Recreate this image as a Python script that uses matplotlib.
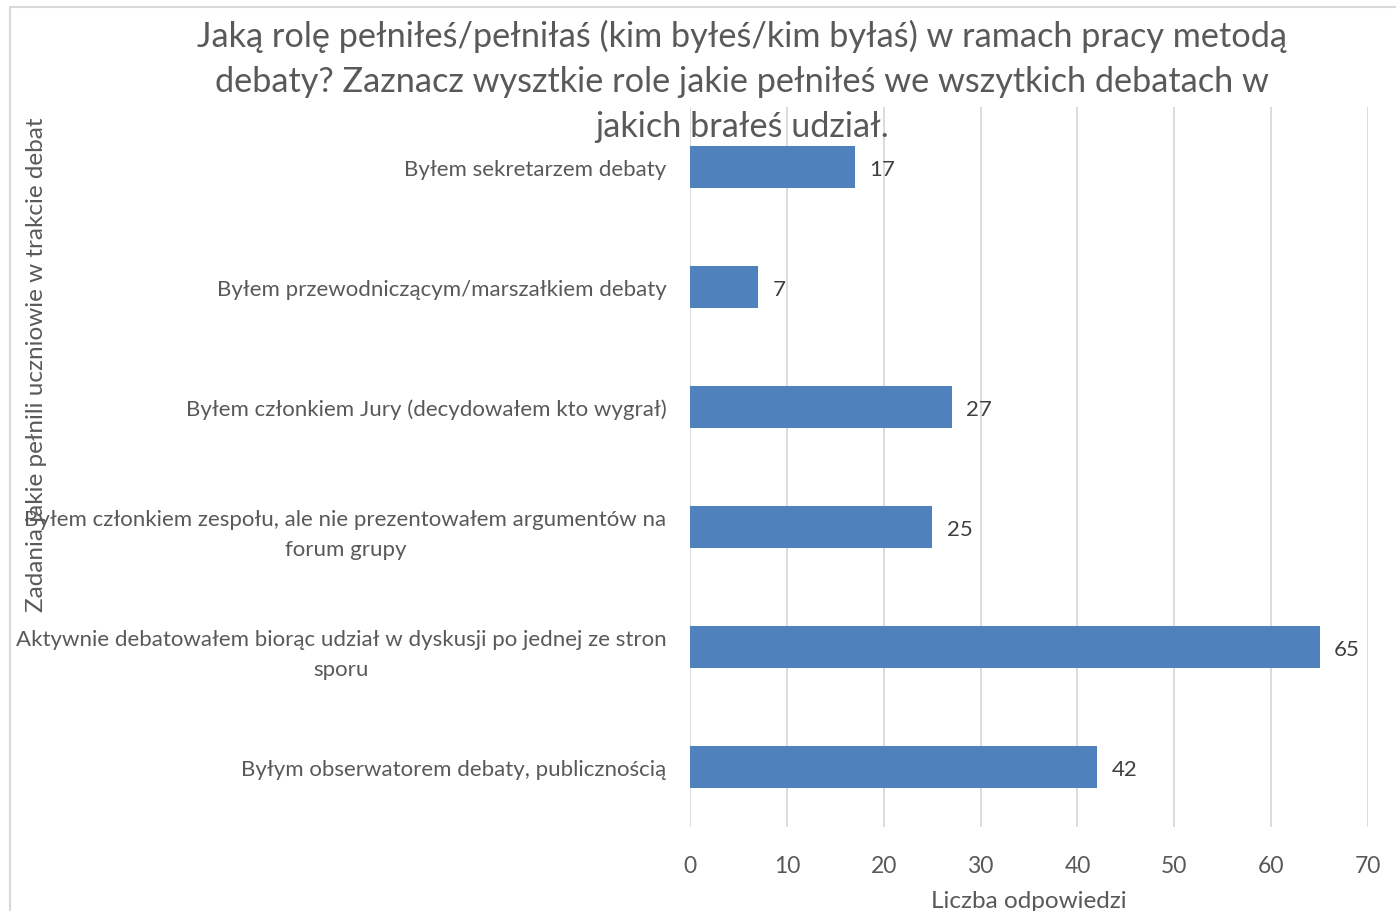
import matplotlib
matplotlib.use("Agg")
import matplotlib.pyplot as plt
from matplotlib.patches import Rectangle

plt.rcParams['font.family'] = ['Lato', 'DejaVu Sans']

roles = [
    "Byłem sekretarzem debaty",
    "Byłem przewodniczącym/marszałkiem debaty",
    "Byłem członkiem Jury (decydowałem kto wygrał)",
    "Byłem członkiem zespołu, ale nie prezentowałem argumentów na\nforum grupy",
    "Aktywnie debatowałem biorąc udział w dyskusji po jednej ze stron\nsporu",
    "Byłym obserwatorem debaty, publicznością",
]
counts = [17, 7, 27, 25, 65, 42]
xticks = [0, 10, 20, 30, 40, 50, 60, 70]

title = ("Jaką rolę pełniłeś/pełniłaś (kim byłeś/kim byłaś) w ramach pracy metodą\n"
         "debaty? Zaznacz wysztkie role jakie pełniłeś we wszytkich debatach w\n"
         "jakich brałeś udział.")

text_color = '#595959'
bar_color = '#4F81BD'
grid_color = '#D9D9D9'

fig = plt.figure(figsize=(13.96, 9.12), dpi=100)
ax = fig.add_axes([0.4943, 0.0921, 0.4857, 0.7895])

pos = list(range(len(roles)))
ax.barh(pos, counts, height=0.35, color=bar_color, zorder=3)
ax.set_ylim(len(roles) - 0.5, -0.5)
ax.set_xlim(0, 70)
ax.set_xticks(xticks)
ax.set_yticks(pos)
ax.set_yticklabels(roles, fontsize=16, color=text_color, multialignment='center',
                   linespacing=1.6)
ax.tick_params(axis='x', labelsize=16.5, colors=text_color, length=0, pad=20)
ax.tick_params(axis='y', length=0, pad=17)
ax.grid(axis='x', color=grid_color, linewidth=1.3, zorder=0)
for s in ax.spines.values():
    s.set_visible(False)

# data labels next to bar ends
for p, v in zip(pos, counts):
    ax.text(v + 1.5, p + 0.02, str(v), va='center', ha='left', fontsize=16, color='#404040')

ax.set_xlabel("Liczba odpowiedzi", fontsize=17.5, color=text_color, labelpad=10)
fig.text(0.026, 0.6, "Zadania jakie pełnili uczniowie w trakcie debat", rotation=90,
         fontsize=17.5, color=text_color, ha='center', va='center')

fig.text(0.5315, 0.978, title, ha='center', va='top', fontsize=24.7, color=text_color,
         linespacing=1.5)

# light chart-area border
fig.patches.append(Rectangle((10 / 1396, -0.05), 1.1, 0.05 + (912 - 8) / 912,
                             transform=fig.transFigure, fill=False,
                             edgecolor=grid_color, linewidth=1.5))

fig.savefig("out.png", dpi=100)
